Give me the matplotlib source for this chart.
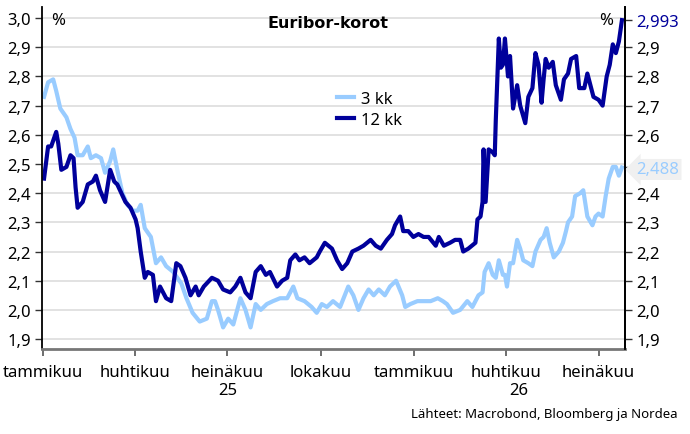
import pandas as pd
import matplotlib
matplotlib.use("Agg")
import matplotlib.pyplot as plt
import matplotlib.transforms as mtransforms

plt.rcParams['font.family'] = ['Noto Sans', 'DejaVu Sans']

# 3 kk Euribor (luettu kuvasta)
dates_3kk = ["2025-01-02", "2025-01-06", "2025-01-11", "2025-01-14", "2025-01-18", "2025-01-24",
             "2025-01-28", "2025-02-01", "2025-02-04", "2025-02-09", "2025-02-14", "2025-02-17",
             "2025-02-22", "2025-02-27", "2025-03-03", "2025-03-08", "2025-03-11", "2025-03-15",
             "2025-03-20", "2025-03-25", "2025-03-30", "2025-04-04", "2025-04-07", "2025-04-11",
             "2025-04-17", "2025-04-22", "2025-04-27", "2025-05-02", "2025-05-09", "2025-05-13",
             "2025-05-17", "2025-05-22", "2025-05-28", "2025-06-04", "2025-06-11", "2025-06-16",
             "2025-06-19", "2025-06-22", "2025-06-27", "2025-07-02", "2025-07-07", "2025-07-14",
             "2025-07-19", "2025-07-24", "2025-07-29", "2025-08-03", "2025-08-09", "2025-08-15",
             "2025-08-22", "2025-08-29", "2025-09-04", "2025-09-08", "2025-09-15", "2025-09-22",
             "2025-09-27", "2025-10-02", "2025-10-07", "2025-10-13", "2025-10-20", "2025-10-28",
             "2025-11-02", "2025-11-07", "2025-11-12", "2025-11-17", "2025-11-22", "2025-11-27",
             "2025-12-03", "2025-12-08", "2025-12-14", "2025-12-20", "2025-12-23", "2025-12-28",
             "2026-01-04", "2026-01-10", "2026-01-17", "2026-01-24", "2026-01-29", "2026-02-02",
             "2026-02-08", "2026-02-15", "2026-02-22", "2026-02-27", "2026-03-05", "2026-03-09",
             "2026-03-11", "2026-03-15", "2026-03-19", "2026-03-22", "2026-03-25", "2026-03-29",
             "2026-03-31", "2026-04-02", "2026-04-05", "2026-04-08", "2026-04-12", "2026-04-15",
             "2026-04-18", "2026-04-23", "2026-04-27", "2026-04-30", "2026-05-05", "2026-05-08",
             "2026-05-11", "2026-05-14", "2026-05-18", "2026-05-23", "2026-05-27", "2026-05-30",
             "2026-06-01", "2026-06-05", "2026-06-08", "2026-06-13", "2026-06-16", "2026-06-20",
             "2026-06-25", "2026-06-28", "2026-07-01", "2026-07-05", "2026-07-08", "2026-07-11",
             "2026-07-15", "2026-07-18", "2026-07-21", "2026-07-24"]
euribor_3kk = [2.73, 2.78, 2.79, 2.75, 2.69, 2.66,
               2.62, 2.59, 2.53, 2.53, 2.56, 2.52,
               2.53, 2.52, 2.47, 2.51, 2.55, 2.48,
               2.40, 2.36, 2.34, 2.34, 2.36, 2.28,
               2.25, 2.16, 2.18, 2.15, 2.13, 2.11,
               2.09, 2.04, 1.99, 1.96, 1.97, 2.03,
               2.03, 2.00, 1.94, 1.97, 1.95, 2.04,
               2.00, 1.94, 2.02, 2.00, 2.02, 2.03,
               2.04, 2.04, 2.08, 2.04, 2.03, 2.01,
               1.99, 2.02, 2.01, 2.03, 2.01, 2.08,
               2.05, 2.00, 2.04, 2.07, 2.05, 2.07,
               2.05, 2.08, 2.10, 2.05, 2.01, 2.02,
               2.03, 2.03, 2.03, 2.04, 2.03, 2.02,
               1.99, 2.00, 2.03, 2.01, 2.05, 2.06,
               2.13, 2.16, 2.12, 2.11, 2.17, 2.12,
               2.12, 2.08, 2.16, 2.16, 2.24, 2.21,
               2.17, 2.16, 2.15, 2.20, 2.24, 2.25,
               2.28, 2.23, 2.18, 2.20, 2.23, 2.27,
               2.30, 2.32, 2.39, 2.40, 2.41, 2.32,
               2.29, 2.32, 2.33, 2.32, 2.39, 2.45,
               2.49, 2.49, 2.46, 2.488]

# 12 kk Euribor
dates_12kk = ["2025-01-02", "2025-01-06", "2025-01-09", "2025-01-14", "2025-01-16", "2025-01-19",
              "2025-01-24", "2025-01-28", "2025-01-31", "2025-02-02", "2025-02-04", "2025-02-09",
              "2025-02-14", "2025-02-19", "2025-02-22", "2025-02-26", "2025-03-03", "2025-03-08",
              "2025-03-12", "2025-03-15", "2025-03-23", "2025-03-28", "2025-04-02", "2025-04-04",
              "2025-04-07", "2025-04-11", "2025-04-14", "2025-04-19", "2025-04-22", "2025-04-26",
              "2025-05-02", "2025-05-07", "2025-05-12", "2025-05-16", "2025-05-21", "2025-05-26",
              "2025-05-31", "2025-06-03", "2025-06-08", "2025-06-16", "2025-06-22", "2025-06-27",
              "2025-07-04", "2025-07-09", "2025-07-14", "2025-07-19", "2025-07-24", "2025-07-29",
              "2025-08-03", "2025-08-08", "2025-08-12", "2025-08-19", "2025-08-24", "2025-08-29",
              "2025-09-01", "2025-09-06", "2025-09-10", "2025-09-15", "2025-09-20", "2025-09-27",
              "2025-09-30", "2025-10-05", "2025-10-12", "2025-10-17", "2025-10-22", "2025-10-27",
              "2025-11-01", "2025-11-07", "2025-11-12", "2025-11-19", "2025-11-24", "2025-11-29",
              "2025-12-05", "2025-12-10", "2025-12-13", "2025-12-18", "2025-12-21", "2025-12-26",
              "2025-12-31", "2026-01-05", "2026-01-10", "2026-01-15", "2026-01-22", "2026-01-25",
              "2026-01-30", "2026-02-05", "2026-02-10", "2026-02-15", "2026-02-18", "2026-02-23",
              "2026-03-02", "2026-03-04", "2026-03-07", "2026-03-09", "2026-03-10", "2026-03-12",
              "2026-03-15", "2026-03-19", "2026-03-21", "2026-03-22", "2026-03-25", "2026-03-27",
              "2026-03-29", "2026-03-31", "2026-04-03", "2026-04-05", "2026-04-08", "2026-04-12",
              "2026-04-15", "2026-04-20", "2026-04-23", "2026-04-27", "2026-04-30", "2026-05-03",
              "2026-05-06", "2026-05-08", "2026-05-10", "2026-05-13", "2026-05-17", "2026-05-20",
              "2026-05-25", "2026-05-28", "2026-06-01", "2026-06-04", "2026-06-09", "2026-06-12",
              "2026-06-17", "2026-06-20", "2026-06-23", "2026-06-26", "2026-07-01", "2026-07-05",
              "2026-07-09", "2026-07-12", "2026-07-15", "2026-07-18", "2026-07-21", "2026-07-24"]
euribor_12kk = [2.45, 2.56, 2.56, 2.61, 2.57, 2.48,
                2.49, 2.53, 2.52, 2.42, 2.35, 2.37,
                2.43, 2.44, 2.46, 2.41, 2.37, 2.48,
                2.44, 2.43, 2.37, 2.35, 2.31, 2.28,
                2.20, 2.11, 2.13, 2.12, 2.03, 2.08,
                2.04, 2.03, 2.16, 2.15, 2.11, 2.05,
                2.08, 2.05, 2.08, 2.11, 2.10, 2.07,
                2.06, 2.08, 2.11, 2.06, 2.04, 2.13,
                2.15, 2.12, 2.13, 2.08, 2.10, 2.11,
                2.17, 2.19, 2.17, 2.18, 2.16, 2.18,
                2.20, 2.23, 2.21, 2.17, 2.14, 2.16,
                2.20, 2.21, 2.22, 2.24, 2.22, 2.21,
                2.24, 2.26, 2.29, 2.32, 2.27, 2.27,
                2.25, 2.26, 2.25, 2.25, 2.22, 2.25,
                2.22, 2.23, 2.24, 2.24, 2.20, 2.21,
                2.23, 2.31, 2.32, 2.37, 2.55, 2.37,
                2.55, 2.54, 2.53, 2.65, 2.93, 2.83,
                2.84, 2.93, 2.80, 2.87, 2.69, 2.77,
                2.70, 2.64, 2.73, 2.76, 2.88, 2.84,
                2.71, 2.79, 2.86, 2.83, 2.85, 2.77,
                2.72, 2.79, 2.81, 2.86, 2.87, 2.76,
                2.76, 2.81, 2.77, 2.73, 2.72, 2.70,
                2.80, 2.84, 2.91, 2.88, 2.92, 2.993]

month_ticks = ["2025-01-01", "2025-04-01", "2025-07-01", "2025-10-01",
               "2026-01-01", "2026-04-01", "2026-07-01"]
month_labels = ["tammikuu", "huhtikuu", "heinäkuu", "lokakuu",
                "tammikuu", "huhtikuu", "heinäkuu"]
year_pos = ["2025-07-02", "2026-04-14"]
year_labels = ["25", "26"]

light = "#99CCFF"
dark = "#00009B"

fig = plt.figure(figsize=(6.9, 4.35), dpi=100)
ax = fig.add_axes([42 / 690, 85 / 435, 583 / 690, 342 / 435])

ax.plot(pd.to_datetime(dates_3kk), euribor_3kk, color=light, lw=3.0, label="3 kk",
        solid_joinstyle="round")
ax.plot(pd.to_datetime(dates_12kk), euribor_12kk, color=dark, lw=3.0, label="12 kk",
        solid_joinstyle="round")

ax.set_xlim(pd.Timestamp("2024-12-31"), pd.Timestamp("2026-07-27"))
ax.set_ylim(1.866, 3.038)

yt = [1.9, 2.0, 2.1, 2.2, 2.3, 2.4, 2.5, 2.6, 2.7, 2.8, 2.9, 3.0]
ax.set_yticks(yt)
ax.set_yticklabels([f"{v:.1f}".replace(".", ",") for v in yt], fontsize=12)
ax.grid(axis="y", color="#dddddd", lw=1.2)
ax.set_axisbelow(True)

ax.set_xticks(pd.to_datetime(month_ticks))
ax.set_xticklabels(month_labels, fontsize=12)
ax.tick_params(axis="x", length=5, width=1.2, color="#555555", pad=6)
ax.tick_params(axis="y", length=5, width=1, color="#333333", pad=3)

ax.spines["top"].set_visible(False)
ax.spines["left"].set_linewidth(1.3)
ax.spines["right"].set_linewidth(1.3)
ax.spines["bottom"].set_color("#777777")
ax.spines["bottom"].set_linewidth(2)

# oikea akseli
ax2 = ax.twinx()
ax2.set_ylim(ax.get_ylim())
rt = [1.9, 2.0, 2.1, 2.2, 2.3, 2.4, 2.6, 2.7, 2.8, 2.9]
ax2.set_yticks(rt + [euribor_3kk[-1], euribor_12kk[-1]])
ax2.set_yticklabels([f"{v:.1f}".replace(".", ",") for v in rt]
                    + [f"{euribor_3kk[-1]:.3f}".replace(".", ","),
                       f"{euribor_12kk[-1]:.3f}".replace(".", ",")], fontsize=12)
labs = ax2.get_yticklabels()
labs[-2].set_color(light)
labs[-2].set_bbox(dict(boxstyle="larrow,pad=0.15", fc="#f0f0f0", ec="none"))
labs[-1].set_color(dark)
ax2.tick_params(axis="y", length=5, width=1, color="#333333", pad=3)
for s in ["top", "left", "bottom"]:
    ax2.spines[s].set_visible(False)
ax2.spines["right"].set_linewidth(1.3)

ax.text(0.015, 0.985, "%", transform=ax.transAxes, fontsize=12, va="top", ha="left")
ax.text(0.98, 0.985, "%", transform=ax.transAxes, fontsize=12, va="top", ha="right")

trans = mtransforms.blended_transform_factory(ax.transData, fig.transFigure)
for d, t in zip(year_pos, year_labels):
    ax.text(pd.Timestamp(d), 1 - 391 / 435, t, transform=trans, fontsize=12,
            ha="center", va="center")

fig.text(328 / 690, 1 - 24 / 435, "Euribor-korot", fontsize=11.5, fontweight="bold",
         family=["DejaVu Sans"], ha="center", va="center")

ax.legend(loc="upper left", bbox_to_anchor=(329 / 690, 1 - 84 / 435),
          bbox_transform=fig.transFigure, frameon=False, fontsize=12,
          handlelength=1.0, handletextpad=0.4, labelspacing=0.3, borderpad=0)

fig.text(678 / 690, 1 - 415 / 435, "Lähteet: Macrobond, Bloomberg ja Nordea",
         fontsize=9.5, ha="right", va="center")

fig.savefig("out.png", dpi=100)
